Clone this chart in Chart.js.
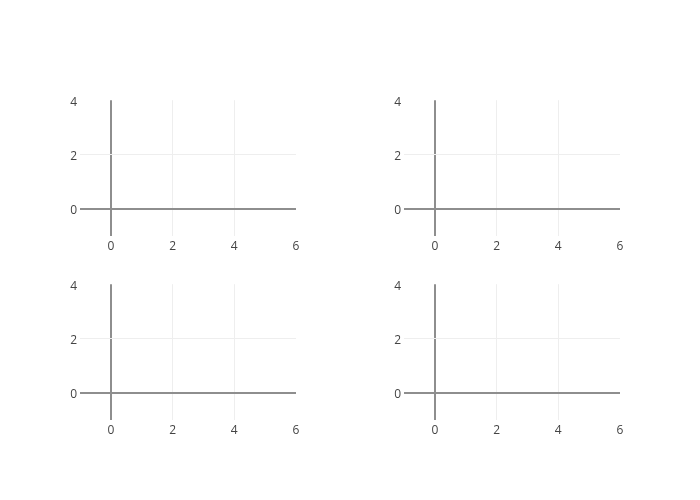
<!DOCTYPE html>
<html>
<head>
<meta charset="utf-8">
<script src="https://cdn.jsdelivr.net/npm/chart.js@4"></script>
<style>
  body { margin: 0; background: #fff; }
  #wrap { position: relative; width: 700px; height: 500px; }
  .cell { position: absolute; width: 266px; height: 170px; }
</style>
</head>
<body>
<div id="wrap">
  <div class="cell" style="left:40px; top:90px;"><canvas id="c1"></canvas></div>
  <div class="cell" style="left:364px; top:90px;"><canvas id="c2"></canvas></div>
  <div class="cell" style="left:40px; top:274px;"><canvas id="c3"></canvas></div>
  <div class="cell" style="left:364px; top:274px;"><canvas id="c4"></canvas></div>
</div>
<script>
// axis ranges and ticks, same for all four subplots
const xRange = [-1, 6];
const yRange = [-1, 4];
const xTicks = [0, 2, 4, 6];
const yTicks = [0, 2, 4];
const panels = ['c1', 'c2', 'c3', 'c4'];

function gridCol(max) {
    return function (ctx) {
        if (!ctx.tick) return 'rgba(0,0,0,0)';
        if (ctx.tick.value === 0) return '#8e8e8e';
        if (ctx.tick.value === max) return 'rgba(0,0,0,0)';
        return '#eee';
    };
}
function gridWidth(ctx) {
    return ctx.tick && ctx.tick.value === 0 ? 2 : 1;
}

panels.forEach(id => {
    new Chart(document.getElementById(id), {
        type: 'scatter',
        data: { datasets: [{ data: [] }] },
        options: {
            responsive: true,
            maintainAspectRatio: false,
            animation: false,
            layout: { padding: { top: 10, right: 10, left: 0, bottom: 0 } },
            plugins: { legend: { display: false }, tooltip: { enabled: false } },
            scales: {
                x: {
                    type: 'linear',
                    min: xRange[0], max: xRange[1],
                    afterBuildTicks: s => { s.ticks = xTicks.map(v => ({ value: v })); },
                    afterFit: s => { s.height = 24; },
                    border: { display: false },
                    grid: { color: gridCol(xRange[1]), lineWidth: gridWidth, drawTicks: false },
                    ticks: { color: '#444', padding: 3, maxRotation: 0,
                             font: { family: 'Open Sans', size: 12 } }
                },
                y: {
                    type: 'linear',
                    min: yRange[0], max: yRange[1],
                    afterBuildTicks: s => { s.ticks = yTicks.map(v => ({ value: v })); },
                    afterFit: s => { s.width = 40; },
                    border: { display: false },
                    grid: { color: gridCol(yRange[1]), lineWidth: gridWidth, drawTicks: false },
                    ticks: { color: '#444', padding: 3, labelOffset: 2,
                             font: { family: 'Open Sans', size: 12 } }
                }
            }
        }
    });
});
</script>
</body>
</html>
